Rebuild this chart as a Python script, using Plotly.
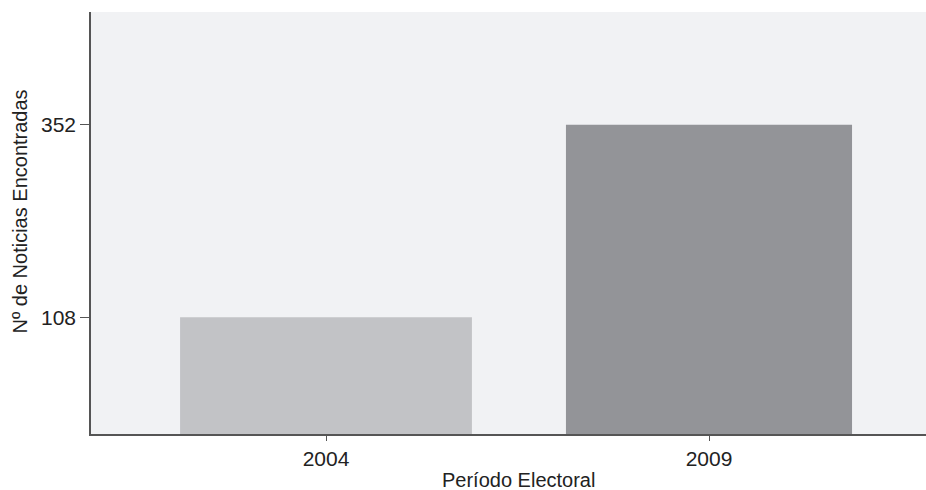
import plotly.graph_objects as go

categories = ["2004", "2009"]
values = [108, 352]
bar_colors = ["#c2c3c6", "#939498"]
bar_widths = [0.762, 0.747]
y_tick_vals = [108, 352]
y_min = -40
y_max = 495
x_title = "Período Electoral"
y_title = "Nº de Noticias Encontradas"

FONT = "Liberation Sans, Arial, sans-serif"
FS = 21
TFS = 20

fig = go.Figure()
fig.add_trace(go.Bar(
    x=categories,
    y=[v - y_min for v in values],
    base=[y_min] * len(values),
    marker=dict(color=bar_colors, line=dict(width=0)),
    width=bar_widths,
    hoverinfo="skip",
))

fig.add_annotation(
    text=x_title, xref="paper", yref="paper",
    x=0.5114, y=-0.109, xanchor="center", yanchor="middle",
    showarrow=False, font=dict(family=FONT, size=TFS, color="#222222"),
)
fig.add_annotation(
    text=y_title, xref="paper", yref="paper",
    x=-0.085, y=0.5273, xanchor="center", yanchor="middle",
    textangle=-90,
    showarrow=False, font=dict(family=FONT, size=TFS, color="#222222"),
)

fig.update_layout(
    width=926, height=490,
    margin=dict(l=91, r=0, t=12, b=56, autoexpand=False),
    paper_bgcolor="white",
    plot_bgcolor="#f1f2f4",
    font=dict(family=FONT, size=FS, color="#222222"),
    showlegend=False,
    xaxis=dict(
        type="category",
        range=[-0.6136, 1.5666],
        showline=True, linecolor="#555555", linewidth=1.5,
        ticks="outside", ticklen=5, tickcolor="#555555", tickwidth=1,
        showgrid=False, zeroline=False,
        tickfont=dict(size=FS),
        automargin=False,
    ),
    yaxis=dict(
        range=[y_min, y_max],
        tickvals=y_tick_vals,
        ticktext=[str(v) for v in y_tick_vals],
        showline=True, linecolor="#555555", linewidth=1.5,
        ticks="outside", ticklen=9, tickcolor="#555555", tickwidth=1,
        showgrid=False, zeroline=False,
        tickfont=dict(size=FS),
        automargin=False,
    ),
)

fig.write_html(
    "out.html",
    config={"displayModeBar": False},
    post_script="document.body.style.margin='0';document.body.style.overflow='hidden';",
)
